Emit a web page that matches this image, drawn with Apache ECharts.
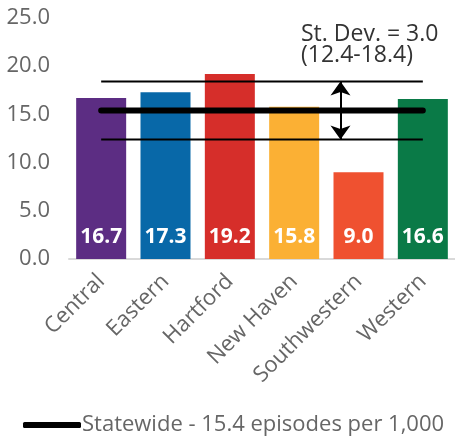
<!DOCTYPE html>
<html>
<head>
<meta charset="utf-8">
<script src="https://cdn.jsdelivr.net/npm/echarts@6/dist/echarts.min.js"></script>
<style>
    html, body { margin: 0; padding: 0; background: #fff; }
    #chart { width: 455px; height: 436px; }
</style>
</head>
<body>
<div id="chart"></div>
<script>
// data
var regions = ["Central", "Eastern", "Hartford", "New Haven", "Southwestern", "Western"];
var rates = [16.7, 17.3, 19.2, 15.8, 9.0, 16.6];
var barColors = ["#5c2d83", "#0868a8", "#d62e2a", "#fbb034", "#ef5130", "#0a7a47"];
var statewide = 15.4;
var stDev = 3.0;
var lowBand = 12.4;
var highBand = 18.4;
var arrowAt = 3.72; // position along the category band, in category units
var yTicks = [0, 5, 10, 15, 20, 25];

var chart = echarts.init(document.getElementById("chart"));

function flat(v) {
    return regions.map(function () { return v; });
}

var option = {
    animation: false,
    title: {
        text: "St. Dev. = " + stDev.toFixed(1) + "\n(" + lowBand.toFixed(1) + "-" + highBand.toFixed(1) + ")",
        left: 296,
        top: 19,
        textStyle: {
            color: "#333",
            fontSize: 23,
            fontWeight: "normal",
            fontFamily: "Open Sans",
            lineHeight: 21
        }
    },
    legend: {
        data: ["Statewide - " + statewide + " episodes per 1,000"],
        left: 18,
        top: 409,
        icon: "roundRect",
        itemWidth: 58,
        itemHeight: 6,
        itemGap: 0,
        textStyle: {
            color: "#666",
            fontSize: 22,
            fontFamily: "Open Sans",
            padding: [0, 0, 0, -4]
        }
    },
    grid: {
        left: 69,
        right: -1,
        top: 18,
        bottom: 177
    },
    xAxis: [{
        type: "category",
        data: regions,
        axisLine: {lineStyle: {color: "#d9d9d9", width: 2}},
        axisTick: {show: false},
        axisLabel: {
            rotate: 45,
            margin: 19,
            color: "#666",
            fontSize: 22,
            fontFamily: "Open Sans"
        }
    }, {
        type: "value",
        min: -0.5,
        max: regions.length - 0.5,
        show: false
    }],
    yAxis: {
        type: "value",
        min: yTicks[0],
        max: yTicks[yTicks.length - 1],
        interval: 5,
        axisLine: {show: false},
        axisTick: {show: false},
        splitLine: {show: false},
        axisLabel: {
            margin: 19,
            color: "#666",
            fontSize: 22,
            fontFamily: "Open Sans",
            formatter: function (v) { return v.toFixed(1); }
        }
    },
    series: [{
        type: "bar",
        barWidth: 50,
        data: rates.map(function (v, i) {
            return {value: v, itemStyle: {color: barColors[i]}};
        }),
        label: {
            show: true,
            position: "insideBottom",
            distance: 11,
            color: "#fff",
            fontSize: 21,
            fontWeight: "bold",
            fontFamily: "Open Sans",
            formatter: function (p) { return p.value.toFixed(1); }
        }
    }, {
        name: "Statewide - " + statewide + " episodes per 1,000",
        type: "line",
        data: flat(statewide),
        symbol: "none",
        color: "#000",
        lineStyle: {color: "#000", width: 6, cap: "round"},
        z: 5
    }, {
        type: "line",
        data: flat(highBand),
        symbol: "none",
        lineStyle: {color: "#000", width: 2},
        z: 4
    }, {
        type: "line",
        data: flat(lowBand),
        symbol: "none",
        lineStyle: {color: "#000", width: 2},
        z: 4
    }, {
        type: "line",
        xAxisIndex: 1,
        data: [],
        symbol: "none",
        z: 6,
        markLine: {
            silent: true,
            symbol: ["arrow", "arrow"],
            symbolSize: [15, 14],
            label: {show: false},
            lineStyle: {color: "#000", width: 2, type: "solid"},
            data: [[
                {coord: [arrowAt, highBand]},
                {coord: [arrowAt, lowBand]}
            ]]
        }
    }]
};

chart.setOption(option);
</script>
</body>
</html>
